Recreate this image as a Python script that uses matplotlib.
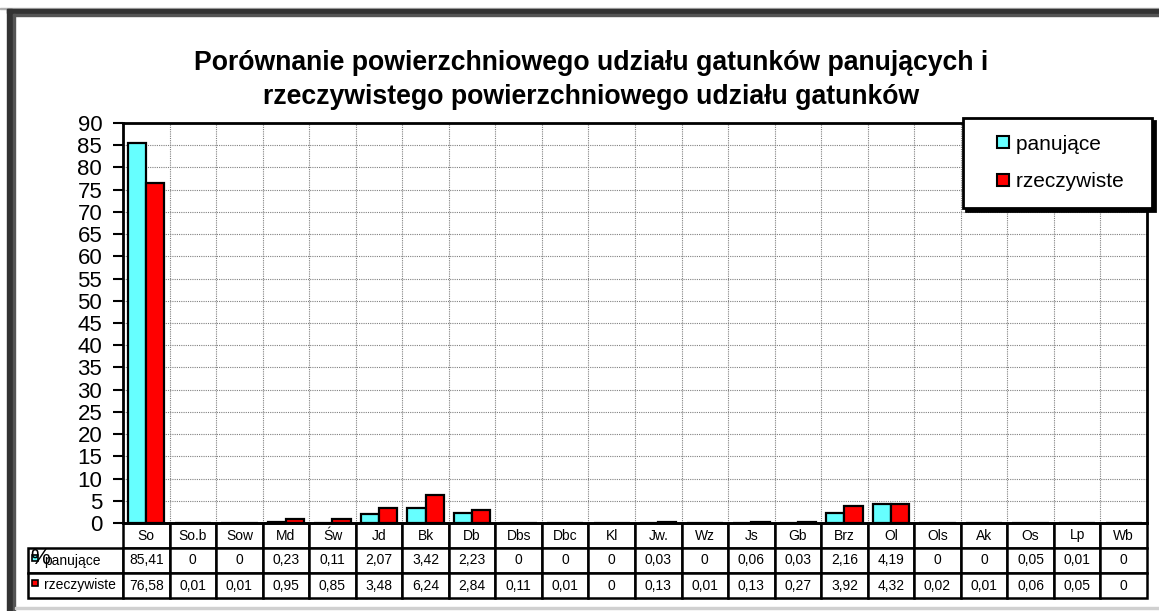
import matplotlib
matplotlib.use("Agg")
from matplotlib import pyplot as plt
from matplotlib.patches import Rectangle
from matplotlib.lines import Line2D
import numpy as np

plt.rcParams['font.family'] = ['Liberation Sans', 'DejaVu Sans']

# data
species = ["So", "So.b", "Sow", "Md", "Św", "Jd", "Bk", "Db", "Dbs", "Dbc", "Kl",
           "Jw.", "Wz", "Js", "Gb", "Brz", "Ol", "Ols", "Ak", "Os", "Lp", "Wb"]
panujace = [85.41, 0, 0, 0.23, 0.11, 2.07, 3.42, 2.23, 0, 0, 0,
            0.03, 0, 0.06, 0.03, 2.16, 4.19, 0, 0, 0.05, 0.01, 0]
rzeczywiste = [76.58, 0.01, 0.01, 0.95, 0.85, 3.48, 6.24, 2.84, 0.11, 0.01, 0,
               0.13, 0.01, 0.13, 0.27, 3.92, 4.32, 0.02, 0.01, 0.06, 0.05, 0]
series = ["panujące", "rzeczywiste"]
colors = ["#66FFFF", "#FF0000"]
title = ("Porównanie powierzchniowego udziału gatunków panujących i\n"
         "rzeczywistego powierzchniowego udziału gatunków")

W, H = 1159, 611
fig = plt.figure(figsize=(W / 100, H / 100), dpi=100)
ax = fig.add_axes([123 / W, 1 - 523 / H, (1147 - 123) / W, 400 / H])

n = len(species)
x = np.arange(n)
bw = 0.39
for i, (vals, col) in enumerate(zip([panujace, rzeczywiste], colors)):
    ax.bar(x + (i - 0.5) * bw, vals, bw, color=col, edgecolor="black",
           linewidth=1.6, zorder=3)

ax.set_xlim(-0.5, n - 0.5)
ax.set_ylim(0, 90)
ax.set_yticks(np.arange(0, 91, 5))
ax.set_xticks([])
ax.set_xticks(np.arange(n - 1) + 0.5, minor=True)
ax.tick_params(axis="x", which="both", length=0, labelbottom=False)
ax.tick_params(axis="y", labelsize=16, length=7, width=1.5, pad=8)
ax.grid(True, which="major", axis="y", color="#808080", linestyle=(0, (1, 1)), linewidth=0.8)
ax.grid(True, which="minor", axis="x", color="#808080", linestyle=(0, (1, 1)), linewidth=0.8)
ax.set_axisbelow(True)
for s in ax.spines.values():
    s.set_linewidth(2)

# data table under the plot (row labels hang left of the axes)
lab_w = 95 / 1024
fmt = lambda v: f"{v:g}".replace(".", ",")
tab = ax.table(cellText=[[fmt(v) for v in panujace], [fmt(v) for v in rzeczywiste]],
               colLabels=species, cellLoc="center", colWidths=[1 / n] * n,
               bbox=[0, -75 / 400, 1, 75 / 400])
ch = tab[1, 0].get_height()
for r, lab in enumerate(series, start=1):
    tab.add_cell(r, -1, width=lab_w, height=ch, text=lab, loc="left")
tab.auto_set_font_size(False)
tab.set_fontsize(10)
for (r, c), cell in tab.get_celld().items():
    cell.set_linewidth(1.8)
    if c == -1:
        cell.PAD = 0.17

# legend keys in the table row labels
for yk, col in zip([555, 580], colors):
    fig.add_artist(Rectangle((32 / W, 1 - (yk + 6) / H), 6 / W, 6 / H, facecolor=col,
                             edgecolor="black", linewidth=1.2, transform=fig.transFigure))
fig.text(30 / W, 1 - 558 / H, "%", fontsize=16, va="center", ha="left", zorder=10)

handles = [Line2D([], [], marker="s", ls="none", markerfacecolor=c, markeredgecolor="black",
                  markersize=9, markeredgewidth=1.5) for c in colors]
leg = ax.legend(handles, ["panujące  ", "rzeczywiste  "], loc="upper left",
                bbox_to_anchor=(963 / W, 1 - 118 / H), bbox_transform=fig.transFigure,
                fontsize=15, fancybox=False, borderaxespad=0, borderpad=0.8,
                labelspacing=0.9, handlelength=2.2, handletextpad=-0.45,
                shadow={"color": "black", "alpha": 1.0}, framealpha=1)
leg.get_frame().set_edgecolor("black")
leg.get_frame().set_linewidth(2)
leg.set_zorder(5)

fig.text(591 / W, 1 - 80 / H, title, fontsize=19.2, fontweight="bold",
         ha="center", va="center", multialignment="center", linespacing=1.35)

# outer frame
fig.add_artist(Rectangle((0, 1 - 9 / H), 1, 1 / H, color="#b0b0b0", transform=fig.transFigure))
fig.add_artist(Rectangle((7 / W, 1 - 13 / H), 1, 4 / H, color="#333333", transform=fig.transFigure))
fig.add_artist(Rectangle((7 / W, 0), 5 / W, 1 - 9 / H, color="#333333", transform=fig.transFigure))
fig.add_artist(Rectangle((13 / W, 1 - 16 / H), 1, 2 / H, color="#555555", transform=fig.transFigure))
fig.add_artist(Rectangle((13 / W, 0), 2 / W, 1 - 14 / H, color="#555555", transform=fig.transFigure))
fig.add_artist(Rectangle((15 / W, 1 - 609 / H), 1, 2 / H, color="#d0d0d0", transform=fig.transFigure))

fig.savefig("out.png", dpi=100)
